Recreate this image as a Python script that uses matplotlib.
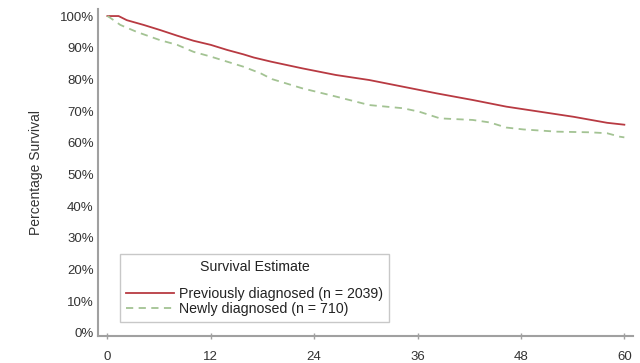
import matplotlib.pyplot as plt

plt.rcParams['font.family'] = ['Liberation Sans', 'DejaVu Sans']

# Kaplan-Meier style survival estimates (months, %)
prev_months = [0, 1.3, 2.25, 4.2, 6.1, 8.1, 10, 12, 13.9, 15.8, 17, 19, 22.6, 26.5,
               30.4, 34.3, 38.2, 42.4, 46.3, 50.2, 54.1, 58, 60]
prev_surv = [100, 100, 98.7, 97.2, 95.6, 93.8, 92.2, 90.9, 89.3, 87.9, 86.9, 85.6, 83.5, 81.4,
             79.8, 77.7, 75.6, 73.5, 71.4, 69.8, 68.2, 66.3, 65.7]

new_months = [0, 0.3, 1.5, 3.4, 6.1, 8.1, 10, 12, 13.9, 15.8, 17.8, 19.1, 22.6, 26.5,
              30.4, 34.3, 36.2, 38.6, 42.4, 44.4, 46.3, 48.3, 52.2, 56, 58, 59.5, 60]
new_surv = [100, 99.5, 97.2, 95, 92.4, 90.9, 88.7, 87.2, 85.6, 84, 81.9, 80.1, 77.2, 74.6,
            71.9, 70.9, 69.8, 67.7, 67.2, 66.4, 64.8, 64.2, 63.5, 63.3, 63, 61.9, 61.7]

x_ticks = [0, 12, 24, 36, 48, 60]
y_ticks = list(range(0, 101, 10))

fig = plt.figure(figsize=(6.4, 3.63), dpi=100)
ax = fig.add_axes([0.153, 0.0744, 0.836, 0.9006])

ax.plot(prev_months, prev_surv, color='#b83a42', lw=1.3,
        label='Previously diagnosed (n = 2039)')
ax.plot(new_months, new_surv, color='#a3c393', lw=1.3, ls=(0, (4, 3)),
        label='Newly diagnosed (n = 710)')

ax.set_xlim(-1.1, 61)
ax.set_ylim(-1, 102.2)
ax.set_xticks(x_ticks)
ax.set_yticks(y_ticks)
ax.set_yticklabels([f'{v}%' for v in y_ticks])

for s in ['top', 'right']:
    ax.spines[s].set_visible(False)
for s in ['left', 'bottom']:
    ax.spines[s].set_color('#a0a0a0')
    ax.spines[s].set_linewidth(1.5)

ax.tick_params(axis='y', length=0, pad=3, labelsize=9.5, labelcolor='#333333')
ax.tick_params(axis='x', direction='inout', length=5, width=1, color='#a0a0a0',
               pad=8, labelsize=9.5, labelcolor='#333333')

ax.set_ylabel('Percentage Survival', fontsize=10, color='#333333', labelpad=12)

leg = ax.legend(title='Survival Estimate', loc='lower left',
                bbox_to_anchor=(0.041, 0.043), borderaxespad=0,
                fancybox=False, edgecolor='#c8c8c8', fontsize=10.2,
                title_fontsize=10.2, handlelength=3.4, handletextpad=0.3,
                labelspacing=0.05, borderpad=0.45, framealpha=1)
leg.get_frame().set_linewidth(1.0)
leg._legend_box.sep = 9
for t in leg.get_texts():
    t.set_color('#222222')
leg.get_title().set_color('#222222')

fig.savefig('out.png', dpi=100)
